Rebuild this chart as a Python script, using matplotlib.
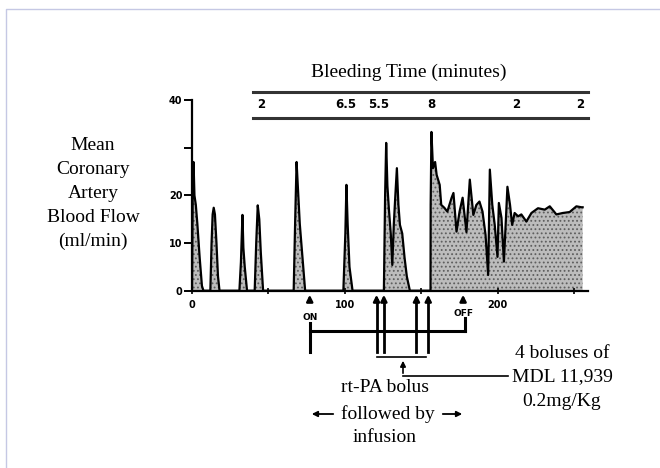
import matplotlib
matplotlib.use('Agg')
import matplotlib.pyplot as plt
from matplotlib.transforms import blended_transform_factory

# coronary flow trace (minutes, ml/min)
time_min = [0, 0.5, 1, 1.6, 2.5, 3.5, 5, 6.5, 7.5,
            12, 12.8, 13.5, 14.2, 15, 16, 17, 18,
            31, 32, 33, 33.6, 34.5, 36,
            41, 42, 43, 44, 45, 46.5,
            66.5, 67.5, 68.4, 69.2, 70.5, 72, 74,
            99, 100.3, 101, 101.8, 103, 105,
            125.5, 126.3, 127, 127.8, 128.8, 130, 131, 132, 133, 134, 135, 136,
            137.5, 139, 140.5, 142.5,
            156, 156.1, 156.6, 157.6, 159, 160, 162, 163, 165, 167, 169.8, 171,
            173, 175, 177, 179.5, 181.7, 184, 186, 188, 190, 192, 193.7, 194.8,
            196.4, 198, 199.8, 200.7, 202.4, 204, 206.3, 208, 209.4, 211, 213.3,
            215.4, 218.7, 222, 226.3, 230.7, 234, 238.3, 242.5, 247, 251.4,
            254.7, 255.5]
flow = [0, 22, 27, 20, 18, 14, 7, 1, 0,
        0, 10, 16, 17.4, 16, 10, 3, 0,
        0, 6, 15.9, 9, 5, 0,
        0, 10, 17.9, 15, 8, 0,
        0, 15, 27, 22, 14, 8, 0,
        0, 12, 22.2, 14, 5, 0,
        0, 20, 31, 22, 17, 12, 5.4, 14, 20, 25.7, 18, 13.8,
        12, 7, 3, 0,
        0, 18, 33.3, 25.7, 27, 24.3, 22.2, 18, 17.4, 16.6, 19.5, 20.5,
        12.4, 16.6, 19.5, 12.3, 23.3, 15.9, 18, 18.7, 16.6, 11.7, 3.3, 25.4,
        18, 13.8, 7.1, 18.4, 15.3, 6.1, 21.8, 18, 13.8, 16.3, 15.6,
        16, 14.5, 16.3, 17.3, 17, 17.7, 16, 16.3, 16.5, 17.7,
        17.5, 17.5]

# bleeding time readings (position in minutes, label)
bt_pos = [45.5, 100.7, 121.8, 156.6, 212, 253.6]
bt_labels = ['2', '6.5', '5.5', '8', '2', '2']

on_time = 77
off_time = 177.3
bolus_times = [120.7, 125.5, 146.8, 154.5]

yticks = [0, 10, 20, 30, 40]
ytick_labels = ['0', '10', '20', '', '40']
xticks = [0, 50, 100, 150, 200, 250]
xtick_labels = ['0', '', '100', '', '200', '']

W, H = 660, 468
fig = plt.figure(figsize=(6.6, 4.68), dpi=100)

ax = fig.add_axes([192 / W, (H - 290.7) / H, (588 - 192) / W, (290.7 - 100) / H])
plt.rcParams['hatch.linewidth'] = 0.8
ax.fill_between(time_min, flow, 0, facecolor='#bcbcbc', edgecolor='#5e5e5e',
                hatch='....', linewidth=0)
ax.plot(time_min, flow, color='black', lw=1.6)
ax.set_xlim(0, 259)
ax.set_ylim(0, 40)
for s in ['top', 'right']:
    ax.spines[s].set_visible(False)
for s in ['left', 'bottom']:
    ax.spines[s].set_linewidth(1.6)
ax.set_yticks(yticks)
ax.set_yticklabels(ytick_labels, fontsize=7, fontweight='bold', family='DejaVu Sans')
ax.set_xticks(xticks)
ax.set_xticklabels(xtick_labels, fontsize=7, fontweight='bold', family='DejaVu Sans')
ax.tick_params(axis='y', direction='out', length=6, width=1.4, pad=1)
ax.tick_params(axis='x', direction='inout', length=5, width=1.2, pad=4)

# overlay in pixel units for annotations
over = fig.add_axes([0, 0, 1, 1])
over.set_xlim(0, W)
over.set_ylim(H, 0)
over.axis('off')
over.set_facecolor('none')
tr = blended_transform_factory(ax.transData, over.transData)

# page border
over.plot([6, 6, W], [H, 9, 9], color='#c5c8e4', lw=1)

serif = 'Liberation Serif'
over.text(409, 72, 'Bleeding Time (minutes)', family=serif, fontsize=14,
          ha='center', va='center')
for i, line in enumerate(['Mean', 'Coronary', 'Artery', 'Blood Flow', '(ml/min)']):
    over.text(93, 145 + i * 24, line, family=serif, fontsize=14, ha='center', va='center')

# bleeding time band
over.plot([40, 259], [92, 92], color='#333333', lw=2.2, transform=tr, clip_on=False)
over.plot([40, 259], [118, 118], color='#333333', lw=2.2, transform=tr, clip_on=False)
for p, lab in zip(bt_pos, bt_labels):
    over.text(p, 105, lab, transform=tr, fontsize=8.5, fontweight='bold',
              family='DejaVu Sans', ha='center', va='center')

# ON / OFF and bolus arrows
arrow = dict(arrowstyle='-|>', lw=1.8, color='black', mutation_scale=9)
for t in [on_time, off_time] + bolus_times:
    over.annotate('', xy=(t, 292), xytext=(t, 304), xycoords=tr, textcoords=tr,
                  arrowprops=arrow)
over.text(on_time, 317, 'ON', transform=tr, fontsize=6.5, fontweight='bold',
          family='DejaVu Sans', ha='center', va='center')
over.text(off_time, 314, 'OFF', transform=tr, fontsize=6.5, fontweight='bold',
          family='DejaVu Sans', ha='center', va='center')
over.plot([on_time, on_time], [323, 352], color='black', lw=2.2, transform=tr)
over.plot([on_time, off_time + 1], [331, 331], color='black', lw=2.2, transform=tr)
over.plot([off_time + 1, off_time + 1], [318, 331], color='black', lw=2.2, transform=tr)
for t in bolus_times:
    over.plot([t, t], [300, 352], color='black', lw=2, transform=tr)

# bracket pointing to the bolus label
over.plot([377, 426], [357, 357], color='black', lw=1.2)
over.annotate('', xy=(403, 358), xytext=(403, 376),
              arrowprops=dict(arrowstyle='-|>', lw=1.2, color='black', mutation_scale=8))
over.plot([403, 508], [376, 376], color='black', lw=1.2)

over.text(562, 353, '4 boluses of', family=serif, fontsize=14, ha='center', va='center')
over.text(562, 377, 'MDL 11,939', family=serif, fontsize=14, ha='center', va='center')
over.text(562, 401, '0.2mg/Kg', family=serif, fontsize=14, ha='center', va='center')

over.text(385, 388, 'rt-PA bolus', family=serif, fontsize=14, ha='center', va='center')
over.text(388, 414, 'followed by', family=serif, fontsize=14, ha='center', va='center')
over.text(385, 437, 'infusion', family=serif, fontsize=14, ha='center', va='center')
small = dict(arrowstyle='-|>', lw=1.3, color='black', mutation_scale=8)
over.annotate('', xy=(309, 414), xytext=(336, 414), arrowprops=small)
over.annotate('', xy=(465, 414), xytext=(440, 414), arrowprops=small)

fig.savefig('out.png', dpi=100)
